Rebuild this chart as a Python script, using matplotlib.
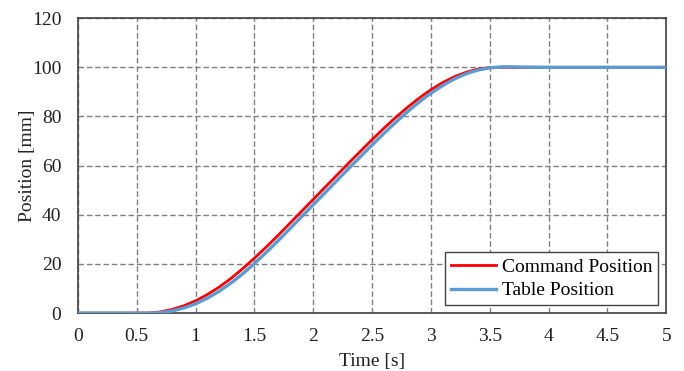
import matplotlib
matplotlib.use("Agg")
import matplotlib.pyplot as plt

time_s = [0.0, 0.1, 0.2, 0.3, 0.4, 0.5, 0.6, 0.7, 0.8, 0.9, 1.0, 1.1, 1.2, 1.3, 1.4,
          1.5, 1.6, 1.7, 1.8, 1.9, 2.0, 2.1, 2.2, 2.3, 2.4, 2.5, 2.6, 2.7, 2.8, 2.9,
          3.0, 3.1, 3.2, 3.3, 3.4, 3.5, 3.6, 3.7, 3.8, 4.0, 4.5, 5.0]
command_pos = [0, 0, 0, 0, 0, 0, 0.05, 0.5, 1.5, 3.0, 5.0, 7.6, 10.6, 14.1, 18.1,
               22.4, 26.9, 31.6, 36.5, 41.4, 46.3, 51.2, 56.1, 61.0, 65.8, 70.6, 75.2, 79.6, 83.7, 87.5,
               90.9, 93.8, 96.2, 98.0, 99.3, 99.9, 100.0, 100.0, 100.0, 100.0, 100.0, 100.0]
table_pos = [0, 0, 0, 0, 0, 0, 0.0, 0.2, 0.9, 2.1, 3.8, 6.1, 8.9, 12.2, 16.0,
             20.2, 24.7, 29.4, 34.3, 39.2, 44.1, 49.0, 53.9, 58.8, 63.6, 68.4, 73.1, 77.6, 81.9, 85.9,
             89.5, 92.6, 95.3, 97.4, 98.9, 99.8, 100.2, 100.2, 100.1, 100.0, 100.0, 100.0]

x_ticks = [0, 0.5, 1, 1.5, 2, 2.5, 3, 3.5, 4, 4.5, 5]
x_tick_labels = ["0", "0.5", "1", "1.5", "2", "2.5", "3", "3.5", "4", "4.5", "5"]
y_ticks = [0, 20, 40, 60, 80, 100, 120]

plt.rcParams['font.family'] = ['Liberation Serif', 'DejaVu Serif']
fig = plt.figure(figsize=(6.84, 3.71), dpi=100)
ax = fig.add_axes([0.114, 0.156, 0.860, 0.795])

ax.plot(time_s, command_pos, color='#ff0000', lw=2.0, label='Command Position', zorder=3)
ax.plot(time_s, table_pos, color='#5b9bd5', lw=2.4, label='Table Position', zorder=4)

ax.set_xlim(0, 5)
ax.set_ylim(0, 120)
ax.set_xticks(x_ticks)
ax.set_xticklabels(x_tick_labels)
ax.set_yticks(y_ticks)
ax.tick_params(labelsize=14, length=0, colors='#222222')
ax.tick_params(axis='x', pad=11)
ax.tick_params(axis='y', pad=12)
ax.grid(True, color='#7f7f7f', linestyle=(0, (4, 2)), linewidth=1.0)
for s in ax.spines.values():
    s.set_color('#404040')
    s.set_linewidth(1.2)

ax.set_xlabel('Time [s]', fontsize=14, color='#222222', labelpad=5.5)
ax.set_ylabel('Position [mm]', fontsize=14, color='#222222', labelpad=-3)

leg = ax.legend(loc='lower right', fontsize=14, frameon=True, fancybox=False,
                bbox_to_anchor=(0.986, 0.027), borderaxespad=0, borderpad=0.3,
                handlelength=2.3, handletextpad=0.3, labelspacing=0.3)
leg.get_frame().set_edgecolor('#404040')
leg.get_frame().set_linewidth(1.0)
leg.get_frame().set_alpha(1.0)

fig.savefig('out.png', dpi=100)
